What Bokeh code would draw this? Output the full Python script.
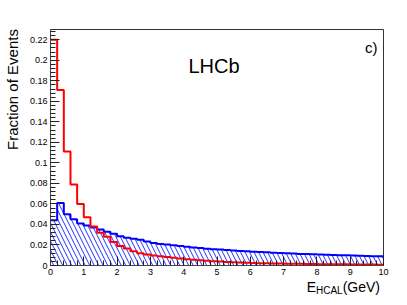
from bokeh.plotting import figure
from bokeh.models import Range1d, FixedTicker, Label, Div
from bokeh.layouts import row, column
from bokeh.embed import file_html
from bokeh.resources import INLINE

# ---- data ----
bin_edges = [round(0.2 * i, 1) for i in range(51)]  # 0 .. 10 GeV, 0.2 GeV bins

red_frac = [0.220, 0.171, 0.111, 0.079, 0.060, 0.047, 0.038, 0.032, 0.028, 0.023,
            0.019, 0.0165, 0.014, 0.012, 0.0108, 0.0098, 0.0090, 0.0082, 0.0075, 0.0068,
            0.0062, 0.0056, 0.0050, 0.0046, 0.0042, 0.0038, 0.0035, 0.0032, 0.0029, 0.0027,
            0.0025, 0.0023, 0.0021, 0.0020, 0.0019, 0.0018, 0.0017, 0.0016, 0.0015, 0.0014,
            0.0013, 0.0012, 0.0012, 0.0011, 0.0011, 0.0010, 0.0010, 0.0009, 0.0009, 0.0008]

blue_frac = [0.044, 0.061, 0.050, 0.045, 0.041, 0.039, 0.037, 0.035, 0.033, 0.031,
             0.0285, 0.027, 0.026, 0.025, 0.0235, 0.022, 0.021, 0.0205, 0.0198, 0.019,
             0.0182, 0.0176, 0.0170, 0.0164, 0.0159, 0.0155, 0.0150, 0.0146, 0.0142, 0.0138,
             0.0134, 0.0131, 0.0128, 0.0125, 0.0122, 0.0119, 0.0116, 0.0113, 0.0111, 0.0109,
             0.0107, 0.0105, 0.0103, 0.0101, 0.0099, 0.0097, 0.0095, 0.0093, 0.0091, 0.0089]

y_ticks = [0, 0.02, 0.04, 0.06, 0.08, 0.1, 0.12, 0.14, 0.16, 0.18, 0.2, 0.22]
y_tick_labels = ["0", "0.02", "0.04", "0.06", "0.08", "0.1", "0.12", "0.14", "0.16", "0.18", "0.2", "0.22"]
x_ticks = [0, 1, 2, 3, 4, 5, 6, 7, 8, 9, 10]
x_tick_labels = ["0", "1", "2", "3", "4", "5", "6", "7", "8", "9", "10"]

y_label = "Fraction of Events"
x_label_main = "E"
x_label_sub = "HCAL"
x_label_unit = "(GeV)"
experiment = "LHCb"
panel = "c)"

FONT = "Liberation Sans"

YDIV_W = 26
FIG_W = 381
FIG_H = 280

# ---- figure ----
p = figure(width=FIG_W, height=FIG_H, output_backend="svg", toolbar_location=None,
           x_range=Range1d(0, 10), y_range=Range1d(0, 0.23),
           min_border_left=23, min_border_right=24, min_border_top=29, min_border_bottom=15,
           margin=0)
p.xgrid.visible = False
p.ygrid.visible = False
p.outline_line_color = "#333333"
p.outline_line_width = 1
p.background_fill_color = "white"
p.border_fill_color = "white"

y_minor = [round(0.004 * i, 3) for i in range(58)]
x_minor = [round(0.2 * i, 1) for i in range(51)]
p.yaxis.ticker = FixedTicker(ticks=y_ticks, minor_ticks=y_minor)
p.xaxis.ticker = FixedTicker(ticks=x_ticks, minor_ticks=x_minor)
p.yaxis.major_label_overrides = {t: l for t, l in zip(y_ticks, y_tick_labels)}
p.xaxis.major_label_overrides = {t: l for t, l in zip(x_ticks, x_tick_labels)}

for ax in (p.xaxis[0], p.yaxis[0]):
    ax.axis_line_color = "#444444"
    ax.major_tick_in = 9
    ax.major_tick_out = 0
    ax.minor_tick_in = 5
    ax.minor_tick_out = 0
    ax.major_tick_line_color = "#222222"
    ax.minor_tick_line_color = "#222222"
    ax.major_label_text_font = FONT
    ax.major_label_text_font_size = "9px"
    ax.major_label_text_color = "black"
    ax.major_label_standoff = 3

# histograms
red_y = red_frac + [red_frac[-1]]
blue_y = blue_frac + [blue_frac[-1]]
zeros = [0.0] * len(bin_edges)

p.varea_step(x=bin_edges, y1=zeros, y2=blue_y, step_mode="after",
             fill_color=None, fill_alpha=0,
             hatch_pattern="\\", hatch_color="#2233ff", hatch_scale=9, hatch_weight=1)
p.step(x=bin_edges, y=blue_y, mode="after", line_color="#0000ff", line_width=2)
p.step(x=bin_edges, y=red_y, mode="after", line_color="#ff0000", line_width=2)

# in-frame texts
p.add_layout(Label(x=4.91, y=0.194, text=experiment, text_align="center",
                   text_baseline="alphabetic", text_font=FONT,
                   text_font_size="20px", text_color="black"))
p.add_layout(Label(x=9.82, y=0.2125, text=panel, text_align="right",
                   text_baseline="alphabetic", text_font=FONT,
                   text_font_size="15px", text_color="black"))

# axis titles as HTML (outside the frame)
ydiv = Div(width=YDIV_W, height=FIG_H, margin=0, text=(
    f'<div style="margin-top:29px; height:236px; width:{YDIV_W}px; line-height:{YDIV_W}px;'
    f' writing-mode:vertical-rl; transform:rotate(180deg); text-align:end;'
    f' font-family:\'{FONT}\'; font-size:15px; color:black; white-space:nowrap;">{y_label}</div>'))

xdiv = Div(width=FIG_W, height=305 - FIG_H, margin=0, text=(
    f'<div style="width:{FIG_W - 27}px; text-align:right; line-height:10px;'
    f' font-family:\'{FONT}\'; font-size:14px; color:black; white-space:nowrap;">'
    f'{x_label_main}<span style="font-size:10px; vertical-align:-2px;">{x_label_sub}</span>'
    f'{x_label_unit}</div>'))

layout = row(ydiv, column(p, xdiv, spacing=0, margin=0), spacing=0, margin=0)

open("out.html", "w").write(file_html(layout, INLINE))
